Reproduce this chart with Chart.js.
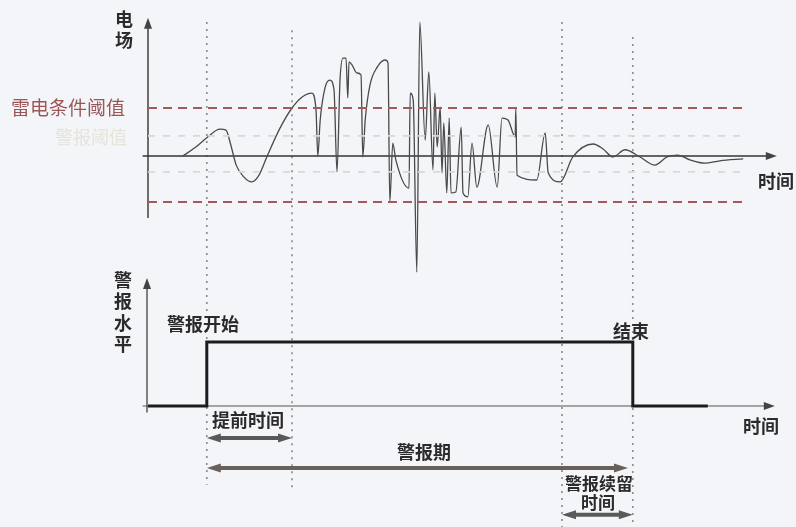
<!DOCTYPE html>
<html><head><meta charset="utf-8">
<script src="https://cdn.jsdelivr.net/npm/chart.js@4.4.1/dist/chart.umd.min.js"></script>
<style>html,body{margin:0;padding:0;background:#f4f5f8}#wrap{width:796px;height:527px;position:relative}</style>
</head><body><div id="wrap"><canvas id="c"></canvas></div>
<script>
// ---- data (time in arbitrary units, field in units of the lightning-condition threshold) ----
const fieldTime = [5.8,7.8,9.8,12,13,13.8,14.7,16,17.3,18.5,19.8,22,24,25.7,27.3,28,28.3,28.7,29.5,30.3,31,31.5,32,32.5,33,33.3,33.5,34,34.8,35.5,35.8,36.2,37,38.2,39.5,40,40.3,40.8,41.3,43.5,43.7,44.2,44.8,45.3,46.2,46.8,47.5,47.8,48.2,48.7,49,49.3,49.8,50.2,50.5,51.3,52.2,52.5,53.3,54,54.8,56.7,58.2,59,60,61.2,61.3,61.5,64.8,66.2,66.7,68.7,70.8,74.2,75.8,77.5,79.5,82,84.5,86.5,88.3,90.3,92.8,95.3,99.2];
const fieldValue = [0,0.17,0.38,0.56,0.54,0.23,-0.19,-0.44,-0.54,-0.40,-0.02,0.58,1.0,1.23,1.31,0.96,0,0.75,1.42,1.58,1.38,-0.33,1.58,2.04,2.04,1.21,1.96,1.90,1.73,1.69,-0.02,0.75,1.48,1.85,2.0,1.94,-0.96,0.27,-0.08,-0.67,1.31,1.17,-2.42,2.79,0.33,1.75,-0.29,1.31,0.19,1.02,-0.35,0.69,-0.77,0.79,-0.77,-0.75,0.60,-0.77,-0.85,0.27,-0.65,0.65,-0.65,0.79,0.75,0.40,1.0,-0.40,-0.50,0.48,-0.35,-0.54,-0.02,0.25,0.15,-0.02,0.13,-0.02,-0.19,-0.02,0.02,-0.08,-0.15,-0.10,-0.06];
const thunderThreshold = [1.0, -0.96];
const alertThreshold = [0.42, -0.33];
const thresholdSpan = [0, 100];
const alertTime = [0, 9.8, 80.8, 93.3];
const alertLevel = [0, 1, 0, 0];
const eventTime = [9.8, 24, 69, 80.8];       // alert start, lightning onset, last exceedance, alert end
const leadTime = [9.8, 24];
const alertPeriod = [9.8, 80];
const dwellTime = [69, 80.8];
const txt = {
  fieldAxis: '电场', timeAxis: '时间', thunder: '雷电条件阈值', alertTh: '警报阈值',
  levelAxis: '警报水平', start: '警报开始', end: '结束', lead: '提前时间',
  period: '警报期', dwell1: '警报续留', dwell2: '时间'
};

const pts = (xs, ys) => xs.map((x, i) => ({x, y: ys[i]}));
const hline = (v) => thresholdSpan.map(x => ({x, y: v}));

const FONT = '"Noto Sans CJK SC", "Noto Sans", sans-serif';

function arrowHead(ctx, x, y, dir, len, hw) {
  ctx.beginPath();
  if (dir === 'up') { ctx.moveTo(x, y); ctx.lineTo(x - hw, y + len); ctx.lineTo(x + hw, y + len); }
  else if (dir === 'right') { ctx.moveTo(x, y); ctx.lineTo(x - len, y - hw); ctx.lineTo(x - len, y + hw); }
  else if (dir === 'left') { ctx.moveTo(x, y); ctx.lineTo(x + len, y - hw); ctx.lineTo(x + len, y + hw); }
  ctx.closePath(); ctx.fill();
}
function dblArrow(ctx, x1, x2, y, color, w) {
  ctx.save();
  ctx.strokeStyle = color; ctx.fillStyle = color; ctx.lineWidth = w;
  ctx.beginPath(); ctx.moveTo(x1 + 8, y); ctx.lineTo(x2 - 8, y); ctx.stroke();
  arrowHead(ctx, x1, y, 'left', 14, 4.5);
  arrowHead(ctx, x2, y, 'right', 14, 4.5);
  ctx.restore();
}

const overlay = {
  id: 'overlay',
  beforeDatasetsDraw(chart) {
    const ctx = chart.ctx, X = chart.scales.x, E = chart.scales.yE, A = chart.scales.yA;
    ctx.save();
    // event dotted lines
    const tops = [E.getPixelForValue(2.79), E.getPixelForValue(2.62), E.getPixelForValue(2.79), E.getPixelForValue(2.48)];
    const bots = [A.getPixelForValue(-1.23), A.getPixelForValue(-1.34), chart.height, chart.height];
    ctx.strokeStyle = '#8f8f8f'; ctx.lineWidth = 1.7; ctx.setLineDash([2, 5]);
    eventTime.forEach((t, i) => {
      const px = X.getPixelForValue(t);
      ctx.beginPath(); ctx.moveTo(px, tops[i]); ctx.lineTo(px, bots[i]); ctx.stroke();
    });
    ctx.setLineDash([]);
    // top axes
    ctx.strokeStyle = '#333'; ctx.fillStyle = '#444'; ctx.lineWidth = 1.4;
    const x0 = X.getPixelForValue(0), xL = X.getPixelForValue(-0.9), xR = X.getPixelForValue(104.8);
    const e0 = E.getPixelForValue(0);
    ctx.beginPath(); ctx.moveTo(x0, E.getPixelForValue(-1.29)); ctx.lineTo(x0, E.getPixelForValue(2.7)); ctx.stroke();
    arrowHead(ctx, x0, E.getPixelForValue(2.88), 'up', 11, 4);
    ctx.beginPath(); ctx.moveTo(xL, e0); ctx.lineTo(xR - 8, e0); ctx.stroke();
    arrowHead(ctx, xR, e0, 'right', 11, 4);
    // bottom axes
    const a0 = A.getPixelForValue(0);
    ctx.lineWidth = 1.2;
    ctx.beginPath(); ctx.moveTo(x0 - 1, A.getPixelForValue(-0.1)); ctx.lineTo(x0 - 1, A.getPixelForValue(1.85)); ctx.stroke();
    arrowHead(ctx, x0 - 1, A.getPixelForValue(2.0), 'up', 11, 4);
    ctx.strokeStyle = '#555';
    ctx.beginPath(); ctx.moveTo(xL, a0); ctx.lineTo(xR - 8, a0); ctx.stroke();
    arrowHead(ctx, xR - 2, a0, 'right', 11, 4);
    ctx.restore();
  },
  afterDraw(chart) {
    const ctx = chart.ctx, X = chart.scales.x, A = chart.scales.yA;
    ctx.save();
    // interval arrows
    dblArrow(ctx, X.getPixelForValue(leadTime[0]), X.getPixelForValue(leadTime[1]), A.getPixelForValue(-0.5), '#595959', 4);
    dblArrow(ctx, X.getPixelForValue(alertPeriod[0]), X.getPixelForValue(alertPeriod[1]), A.getPixelForValue(-0.97), '#6a605a', 4);
    dblArrow(ctx, X.getPixelForValue(dwellTime[0]), X.getPixelForValue(dwellTime[1]), A.getPixelForValue(-1.7), '#5a5a5a', 4);
    // texts
    ctx.textBaseline = 'middle';
    ctx.fillStyle = '#2b2b2b';
    ctx.font = 'bold 18px ' + FONT;
    ctx.textAlign = 'center';
    ctx.fillText(txt.fieldAxis[0], 124, 19);
    ctx.fillText(txt.fieldAxis[1], 124, 40);
    [280, 301, 323, 344].forEach((y, i) => ctx.fillText(txt.levelAxis[i], 123, y));
    ctx.textAlign = 'left';
    ctx.fillText(txt.timeAxis, 758, 181);
    ctx.fillText(txt.start, 167, 324);
    ctx.fillText(txt.end, 613, 331);
    ctx.fillText(txt.timeAxis, 743, 426);
    ctx.fillText(txt.lead, 212, 420);
    ctx.fillText(txt.period, 397, 452);
    ctx.font = 'bold 17px ' + FONT;
    ctx.fillText(txt.dwell1, 565, 484);
    ctx.fillText(txt.dwell2, 581, 503);
    ctx.font = '19px ' + FONT;
    ctx.fillStyle = '#9b5757';
    ctx.fillText(txt.thunder, 11, 108);
    ctx.fillStyle = '#e4e4d8';
    ctx.font = '18px ' + FONT;
    ctx.textAlign = 'right';
    ctx.fillText(txt.alertTh, 127, 137);
    ctx.restore();
  }
};

new Chart(document.getElementById('c'), {
  type: 'line',
  data: {
    datasets: [
      {data: hline(alertThreshold[0]), yAxisID: 'yE', borderColor: '#d8d8d8', borderWidth: 1.6, borderDash: [7, 8], pointRadius: 0},
      {data: hline(alertThreshold[1]), yAxisID: 'yE', borderColor: '#d8d8d8', borderWidth: 1.6, borderDash: [7, 8], pointRadius: 0},
      {data: hline(thunderThreshold[0]), yAxisID: 'yE', borderColor: '#a55a5a', borderWidth: 2, borderDash: [9, 6], pointRadius: 0},
      {data: hline(thunderThreshold[1]), yAxisID: 'yE', borderColor: '#a55a5a', borderWidth: 2, borderDash: [9, 6], pointRadius: 0},
      {data: pts(fieldTime, fieldValue), yAxisID: 'yE', borderColor: '#4a4a4a', borderWidth: 1.3, pointRadius: 0, cubicInterpolationMode: 'monotone'},
      {data: pts(alertTime, alertLevel), yAxisID: 'yA', borderColor: '#1c1c1c', borderWidth: 3, pointRadius: 0, stepped: 'before'}
    ]
  },
  options: {
    responsive: true, maintainAspectRatio: false, animation: false,
    layout: {padding: 0},
    plugins: {legend: {display: false}, tooltip: {enabled: false}},
    scales: {
      x: {type: 'linear', display: false, min: -24.667, max: 108},
      yE: {type: 'linear', display: false, min: -7.729, max: 3.25},
      yA: {type: 'linear', display: false, min: -1.891, max: 6.344}
    }
  },
  plugins: [overlay]
});
</script></body></html>
